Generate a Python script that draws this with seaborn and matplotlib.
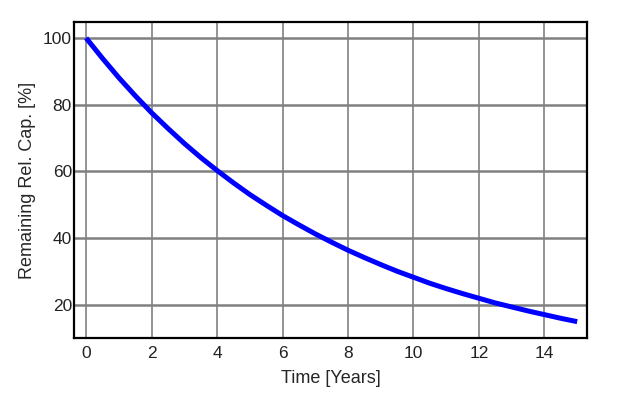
import numpy as np
import pandas as pd
import matplotlib
matplotlib.use("Agg")
import matplotlib.pyplot as plt
import seaborn as sns

# values
years = [0, 0.5, 1, 1.5, 2, 2.5, 3, 3.5, 4, 4.5, 5, 5.5, 6, 6.5, 7, 7.5,
         8, 8.5, 9, 9.5, 10, 10.5, 11, 11.5, 12, 12.5, 13, 13.5, 14, 14.5, 15]
capacity = [100.0, 93.9, 88.1, 82.7, 77.6, 72.9, 68.4, 64.2, 60.3, 56.6, 53.1,
            49.9, 46.8, 44.0, 41.3, 38.8, 36.4, 34.2, 32.1, 30.1, 28.3, 26.5,
            24.9, 23.4, 22.0, 20.6, 19.4, 18.2, 17.1, 16.0, 15.0]
x_ticks = [0, 2, 4, 6, 8, 10, 12, 14]
y_ticks = [20, 40, 60, 80, 100]

df = pd.DataFrame({"t": years, "cap": capacity})

sns.set_style("white")
plt.rcParams['font.family'] = ['Liberation Sans', 'DejaVu Sans']

fig = plt.figure(figsize=(6.24, 3.99), dpi=100)
ax = fig.add_axes([0.1186, 0.1529, 0.8221, 0.792])

ax.grid(True, axis='x', color='#808080', linewidth=1.2)
ax.grid(True, axis='y', color='#808080', linewidth=1.8)
ax.set_axisbelow(True)

sns.lineplot(data=df, x="t", y="cap", color='#0000ff', linewidth=3.6,
             solid_capstyle='butt', ax=ax)

ax.set_xlim(-0.37, 15.3)
ax.set_ylim(10.1, 104.8)
ax.set_xticks(x_ticks)
ax.set_yticks(y_ticks)
ax.set_xticks(range(1, 16, 2), minor=True)
ax.set_yticks(range(30, 101, 20), minor=True)
ax.tick_params(which='major', length=0, labelsize=12.5, colors='#222222')
ax.tick_params(axis='x', which='major', pad=5.5)
ax.tick_params(axis='y', which='major', pad=1.5)
ax.tick_params(which='minor', direction='in', length=3, color='#cccccc')

for s in ax.spines.values():
    s.set_color('black')
    s.set_linewidth(1.6)

ax.set_xlabel("Time [Years]", fontsize=13, labelpad=7)
ax.set_ylabel("Remaining Rel. Cap. [%]", fontsize=13, labelpad=5)

fig.savefig("out.png", dpi=100)
